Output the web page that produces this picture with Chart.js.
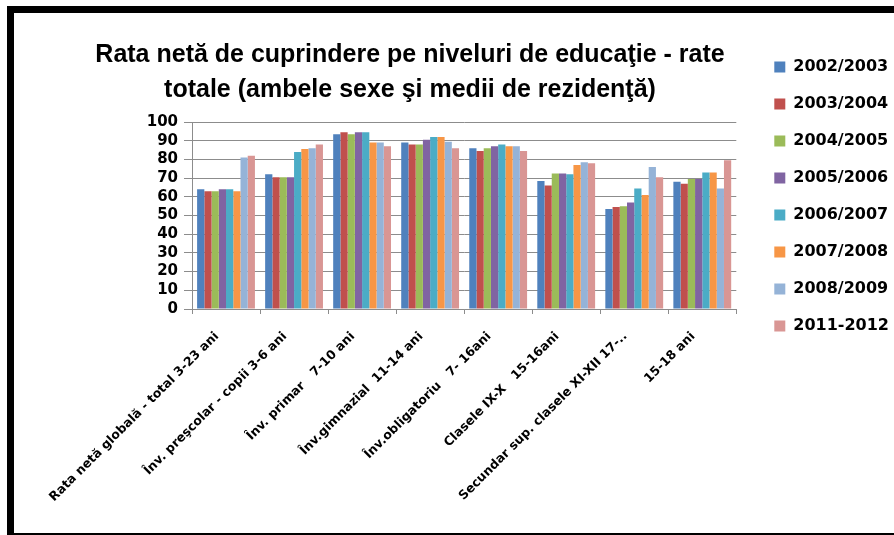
<!DOCTYPE html>
<html>
<head>
<meta charset="utf-8">
<script src="https://cdn.jsdelivr.net/npm/chart.js@4.4.0/dist/chart.umd.min.js"></script>
<style>
    html, body { margin: 0; padding: 0; background: #fff; overflow: hidden; }
    body { width: 894px; height: 535px; position: relative; }
    .frame {
        position: absolute; left: 7px; top: 6px;
        width: 900px; height: 520px;
        border: 7px solid #000;
    }
    #rateChart { position: absolute; left: 0; top: 0; }
</style>
</head>
<body>
<div class="frame"></div>
<canvas id="rateChart" width="899" height="535"></canvas>
<script>
const titleLines = [
    "Rata netă de cuprindere pe niveluri de educaţie - rate",
    "totale (ambele sexe şi medii de rezidenţă)",
];

const categories = [
    "Rata netă globală - total 3-23 ani",
    "Înv. preşcolar - copii 3-6 ani",
    "Înv. primar   7-10 ani",
    "Înv.gimnazial  11-14 ani",
    "Înv.obligatoriu   7- 16ani",
    "Clasele IX-X   15-16ani",
    "Secundar sup. clasele XI-XII 17-..",
    "15-18 ani",
];

const years = ["2002/2003", "2003/2004", "2004/2005", "2005/2006", "2006/2007", "2007/2008", "2008/2009", "2011-2012"];

const v2002 = [64, 72, 93.5, 89, 86, 68.5, 53.5, 68];
const v2003 = [63, 70.5, 94.5, 88, 84.5, 66, 54.5, 67];
const v2004 = [63, 70.5, 93.5, 88, 86, 72.5, 55, 69.5];
const v2005 = [64, 70.5, 94.5, 90.5, 87, 72.5, 57, 69.5];
const v2006 = [64, 84, 94.5, 92, 88, 72, 64.5, 73];
const v2007 = [63, 85.5, 89, 92, 87, 77, 61, 73];
const v2008 = [81, 86, 89, 89.5, 87, 78.5, 76, 64.5];
const v2011 = [82, 88, 87, 86, 84.5, 78, 70.5, 79.5];

const yTicks = [0, 10, 20, 30, 40, 50, 60, 70, 80, 90, 100];

const seriesValues = [v2002, v2003, v2004, v2005, v2006, v2007, v2008, v2011];
const seriesColors = ["#4F81BD", "#C0504D", "#9BBB59", "#8064A2", "#4BACC6", "#F79646", "#95B3D7", "#D99694"];

// move the title so it sits over the whole chart, like in Excel
const titleShift = {
    id: "titleShift",
    afterLayout(chart) {
        chart.titleBlock.left = 14;
        chart.titleBlock.right = 806;
    },
};

function createRateChart() {
    const ctx = document.getElementById("rateChart").getContext("2d");

    new Chart(ctx, {
        type: "bar",
        data: {
            labels: categories,
            datasets: years.map((year, i) => ({
                label: year,
                data: seriesValues[i],
                backgroundColor: seriesColors[i],
                borderWidth: 0,
                categoryPercentage: 0.85,
                barPercentage: 1,
            })),
        },
        plugins: [titleShift],
        options: {
            responsive: false,
            animation: false,
            layout: {
                padding: {top: 38, left: 20, right: 0, bottom: 10},
            },
            plugins: {
                title: {
                    display: true,
                    fullSize: false,
                    text: titleLines,
                    color: "#000",
                    font: {family: "Liberation Sans", size: 25, weight: "bold", lineHeight: 35 / 25},
                    padding: {top: 0, bottom: 14},
                },
                legend: {
                    position: "right",
                    align: "start",
                    labels: {
                        boxWidth: 11,
                        boxHeight: 11,
                        padding: 21,
                        color: "#000",
                        font: {family: "DejaVu Sans", size: 16, weight: "bold"},
                    },
                },
                tooltip: {enabled: false},
            },
            scales: {
                x: {
                    grid: {
                        drawOnChartArea: false,
                        tickLength: 5,
                        color: "#8c8c8c",
                        offset: true,
                    },
                    border: {color: "#8c8c8c"},
                    ticks: {
                        autoSkip: false,
                        minRotation: 45,
                        maxRotation: 45,
                        padding: 15,
                        labelOffset: -9,
                        color: "#000",
                        font: {family: "DejaVu Sans", size: 12.5, weight: "bold"},
                    },
                    afterFit: function (scale) {
                        scale.height = 216;
                    },
                },
                y: {
                    min: 0,
                    max: 100,
                    afterBuildTicks: function (scale) {
                        scale.ticks = yTicks.map((v) => ({value: v}));
                    },
                    ticks: {
                        autoSkip: false,
                        padding: 6,
                        color: "#000",
                        font: {family: "DejaVu Sans", size: 15, weight: "bold"},
                    },
                    grid: {color: "#8c8c8c", tickLength: 8},
                    border: {color: "#8c8c8c"},
                    afterFit: function (scale) {
                        scale.width = 172;
                    },
                },
                // empty gap between plot and legend
                gap: {
                    type: "linear",
                    axis: "y",
                    position: "right",
                    grid: {display: false},
                    border: {display: false},
                    ticks: {display: false},
                    afterFit: function (scale) {
                        scale.width = 17;
                    },
                },
            },
        },
    });
}

document.addEventListener("DOMContentLoaded", createRateChart);
</script>
</body>
</html>
